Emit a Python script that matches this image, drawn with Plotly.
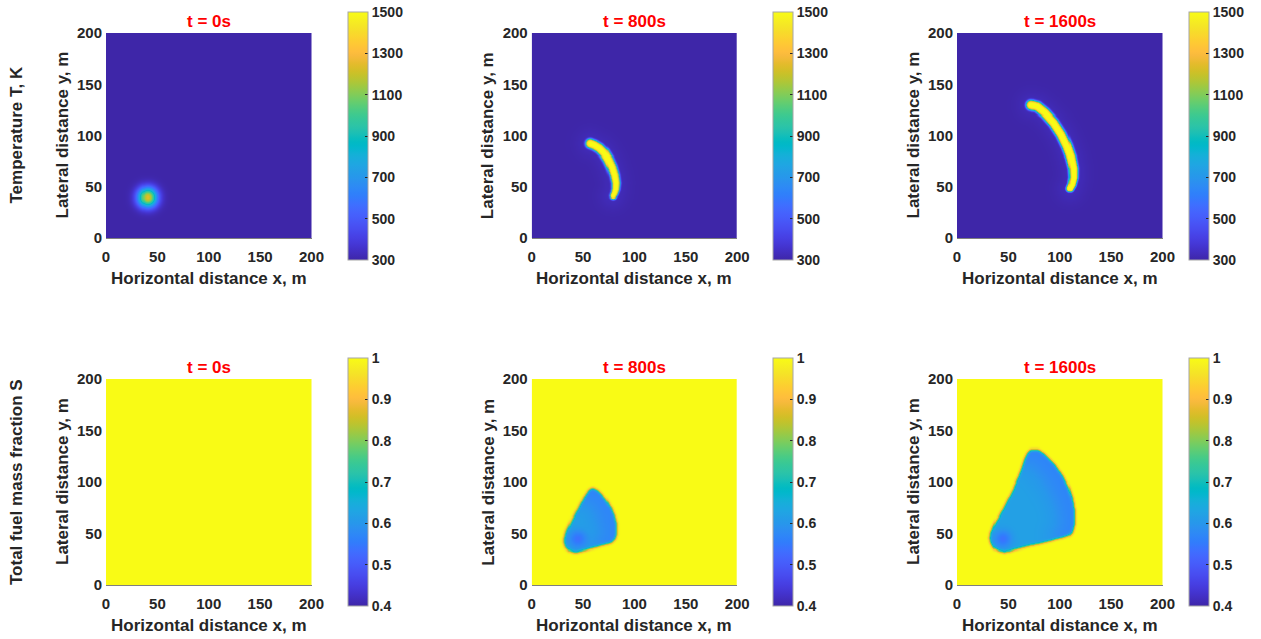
import numpy as np
import plotly.graph_objects as go

# ---------------------------------------------------------------------------
# Domain / grid (200 m x 200 m, 1 m cells)
# ---------------------------------------------------------------------------
N_CELLS = 200
xs = np.arange(N_CELLS) + 0.5
ys = np.arange(N_CELLS) + 0.5
X, Y = np.meshgrid(xs, ys)

time_labels = ["t = 0s", "t = 800s", "t = 1600s"]
row_labels = ["Temperature T, K", "Total fuel mass fraction S"]

# ---------------------------------------------------------------------------
# Temperature data
# ---------------------------------------------------------------------------
T_ambient = 300.0
T_flame = 1500.0
T_ticks = [300, 500, 700, 900, 1100, 1300, 1500]

ignition_x, ignition_y = 40.0, 40.0
ignition_peak = 1240.0
ignition_sigma = 6.5

# fire-front centrelines (ordered from the upper tip to the lower tip)
front_800_x = [56.5, 60.5, 65.5, 70.0, 74.0, 77.5, 80.0, 81.3, 81.0, 79.8, 78.5]
front_800_y = [92.5, 91.0, 88.0, 83.5, 77.0, 69.5, 61.5, 54.0, 48.0, 44.0, 41.5]
front_1600_x = [72.0, 77.5, 85.0, 93.5, 101.0, 106.5, 110.5, 112.8, 113.0, 111.5, 109.5]
front_1600_y = [130.0, 128.5, 122.5, 113.0, 101.5, 90.0, 79.0, 68.5, 59.5, 52.5, 48.5]
front_halfwidth = [4.8, 5.0]

# ---------------------------------------------------------------------------
# Fuel mass fraction data
# ---------------------------------------------------------------------------
S_unburnt = 1.0
S_burnt = 0.62
S_front_dip = 0.05
S_ignition_dip = 0.08
S_ticks = [0.4, 0.5, 0.6, 0.7, 0.8, 0.9, 1.0]
S_ticktext = ["0.4", "0.5", "0.6", "0.7", "0.8", "0.9", "1"]

burned_800_x = [57, 62, 67, 72, 77, 80.5, 82.5, 82.5, 79.5, 60, 42, 35, 31, 31, 34, 40, 46, 52]
burned_800_y = [96, 94.5, 89.5, 83, 75, 66, 57, 49, 42, 36.5, 31.5, 33, 39, 46, 55, 67, 78, 88]
burned_1600_x = [72, 80, 88, 96, 103, 108.5, 112, 114, 114, 111.5, 90, 65, 46, 38, 32, 31, 35, 45, 54, 61, 66, 69]
burned_1600_y = [133.5, 131.5, 125, 116, 106, 95, 84, 72, 60, 49, 43, 37, 32, 33.5, 40, 48, 58, 76, 93, 110, 124, 131]

# parula(64)
parula = [
    [0.2422, 0.1504, 0.6603], [0.2504, 0.1650, 0.7076], [0.2578, 0.1818, 0.7511], [0.2647, 0.1978, 0.7952],
    [0.2706, 0.2147, 0.8364], [0.2751, 0.2342, 0.8710], [0.2783, 0.2559, 0.8991], [0.2803, 0.2782, 0.9221],
    [0.2813, 0.3006, 0.9414], [0.2810, 0.3228, 0.9579], [0.2795, 0.3447, 0.9717], [0.2760, 0.3667, 0.9829],
    [0.2699, 0.3892, 0.9906], [0.2602, 0.4123, 0.9952], [0.2440, 0.4358, 0.9988], [0.2206, 0.4603, 0.9973],
    [0.1963, 0.4847, 0.9892], [0.1834, 0.5074, 0.9798], [0.1786, 0.5289, 0.9682], [0.1764, 0.5499, 0.9520],
    [0.1687, 0.5703, 0.9359], [0.1540, 0.5902, 0.9218], [0.1460, 0.6091, 0.9079], [0.1380, 0.6276, 0.8973],
    [0.1248, 0.6459, 0.8883], [0.1113, 0.6635, 0.8763], [0.0952, 0.6798, 0.8598], [0.0689, 0.6948, 0.8394],
    [0.0297, 0.7082, 0.8163], [0.0036, 0.7203, 0.7917], [0.0067, 0.7312, 0.7660], [0.0433, 0.7411, 0.7394],
    [0.0964, 0.7500, 0.7120], [0.1408, 0.7584, 0.6842], [0.1717, 0.7670, 0.6554], [0.1938, 0.7758, 0.6251],
    [0.2161, 0.7843, 0.5923], [0.2470, 0.7918, 0.5567], [0.2906, 0.7973, 0.5188], [0.3406, 0.8008, 0.4789],
    [0.3909, 0.8029, 0.4354], [0.4456, 0.8024, 0.3909], [0.5044, 0.7993, 0.3480], [0.5616, 0.7942, 0.3045],
    [0.6174, 0.7876, 0.2612], [0.6720, 0.7793, 0.2227], [0.7242, 0.7698, 0.1910], [0.7738, 0.7598, 0.1646],
    [0.8203, 0.7498, 0.1535], [0.8634, 0.7406, 0.1596], [0.9035, 0.7330, 0.1774], [0.9393, 0.7288, 0.2100],
    [0.9728, 0.7298, 0.2394], [0.9956, 0.7434, 0.2371], [0.9970, 0.7659, 0.2199], [0.9952, 0.7893, 0.2028],
    [0.9892, 0.8136, 0.1885], [0.9786, 0.8386, 0.1766], [0.9676, 0.8639, 0.1643], [0.9610, 0.8890, 0.1537],
    [0.9597, 0.9135, 0.1423], [0.9628, 0.9373, 0.1265], [0.9691, 0.9606, 0.1064], [0.9769, 0.9839, 0.0805],
]
colorscale = [
    [i / (len(parula) - 1), "rgb(%d,%d,%d)" % tuple(round(255 * c) for c in rgb)]
    for i, rgb in enumerate(parula)
]


# ---------------------------------------------------------------------------
# Field helpers
# ---------------------------------------------------------------------------
def gaussian_blur(a, sigma):
    r = int(np.ceil(3 * sigma))
    k = np.exp(-0.5 * (np.arange(-r, r + 1) / sigma) ** 2)
    k /= k.sum()
    p = np.pad(a, r, mode="edge")
    p = np.apply_along_axis(lambda v: np.convolve(v, k, mode="valid"), 0, p)
    p = np.apply_along_axis(lambda v: np.convolve(v, k, mode="valid"), 1, p)
    return p


def polyline_distance(px, py, lx, ly):
    lx = np.asarray(lx, float)
    ly = np.asarray(ly, float)
    seg = np.hypot(np.diff(lx), np.diff(ly))
    cum = np.concatenate([[0.0], np.cumsum(seg)])
    best = np.full(px.shape, np.inf)
    along = np.zeros(px.shape)
    for i in range(len(seg)):
        ax, ay = lx[i], ly[i]
        dx, dy = lx[i + 1] - ax, ly[i + 1] - ay
        t = np.clip(((px - ax) * dx + (py - ay) * dy) / (dx * dx + dy * dy), 0, 1)
        d = np.hypot(px - (ax + t * dx), py - (ay + t * dy))
        m = d < best
        best[m] = d[m]
        along[m] = (cum[i] + t[m] * seg[i]) / cum[-1]
    return best, along


def inside_polygon(px, py, vx, vy):
    inside = np.zeros(px.shape, bool)
    n = len(vx)
    j = n - 1
    for i in range(n):
        xi, yi, xj, yj = vx[i], vy[i], vx[j], vy[j]
        cross = ((yi > py) != (yj > py)) & (
            px < (xj - xi) * (py - yi) / (yj - yi + 1e-12) + xi
        )
        inside ^= cross
        j = i
    return inside


def temperature_ignition():
    r2 = (X - ignition_x) ** 2 + (Y - ignition_y) ** 2
    return T_ambient + (ignition_peak - T_ambient) * np.exp(-r2 / (2 * ignition_sigma**2))


def temperature_front(fx, fy, hw):
    d, s = polyline_distance(X, Y, fx, fy)
    w = hw * (1 - 0.3 * s**4)
    band = np.exp(-((d / w) ** 4))
    halo = 30 * np.exp(-(d**2) / (2 * 9.0**2))
    return np.clip(T_ambient + (T_flame - T_ambient) * band + halo, T_ambient, T_flame)


def fuel_fraction(px, py, fx, fy):
    ind = inside_polygon(X, Y, px, py).astype(float)
    rounded = (gaussian_blur(ind, 3.0) > 0.5).astype(float)
    mask = gaussian_blur(rounded, 1.3)
    d, _ = polyline_distance(X, Y, fx, fy)
    r2 = (X - ignition_x - 4) ** 2 + (Y - ignition_y - 5) ** 2
    interior = (
        S_burnt
        - S_front_dip * np.exp(-(d**2) / (2 * 14.0**2))
        - S_ignition_dip * np.exp(-r2 / (2 * 6.0**2))
    )
    return S_unburnt - (S_unburnt - interior) * mask


T_fields = [
    temperature_ignition(),
    temperature_front(front_800_x, front_800_y, front_halfwidth[0]),
    temperature_front(front_1600_x, front_1600_y, front_halfwidth[1]),
]
S_fields = [
    np.full(X.shape, S_unburnt),
    fuel_fraction(burned_800_x, burned_800_y, front_800_x, front_800_y),
    fuel_fraction(burned_1600_x, burned_1600_y, front_1600_x, front_1600_y),
]

# ---------------------------------------------------------------------------
# Layout geometry (pixels)
# ---------------------------------------------------------------------------
W, H = 1261, 639
col_left = [106.0, 531.7, 957.0]
plot_w = 205.5
row_top = [33.0, 379.0]
plot_h = [205.0, 206.0]
cbar_left = [348.0, 773.0, 1189.0]
cbar_top = [12.0, 358.0]
cbar_len = 248.0

FONT = "Liberation Sans, Arial, sans-serif"
TXT = "#262626"

fig = go.Figure()
layout = dict(
    width=W, height=H, margin=dict(l=0, r=0, t=0, b=0, autoexpand=False),
    paper_bgcolor="white", plot_bgcolor="white", showlegend=False,
    font=dict(family=FONT, color=TXT),
)
annotations = []

for r in range(2):
    fields = T_fields if r == 0 else S_fields
    for c in range(3):
        k = r * 3 + c + 1
        xa = "x" if k == 1 else "x%d" % k
        ya = "y" if k == 1 else "y%d" % k
        if r == 0:
            zmin, zmax, tv, tt = 300, 1500, T_ticks, [str(v) for v in T_ticks]
        else:
            zmin, zmax, tv, tt = 0.4, 1.0, S_ticks, S_ticktext
        fig.add_trace(go.Heatmap(
            x=xs, y=ys, z=fields[c], xaxis=xa, yaxis=ya,
            colorscale=colorscale, zmin=zmin, zmax=zmax, zsmooth="best",
            hoverinfo="skip",
            colorbar=dict(
                x=cbar_left[c] / W, xanchor="left", xpad=0,
                y=1 - (cbar_top[r] + cbar_len / 2) / H, yanchor="middle", ypad=0,
                lenmode="pixels", len=cbar_len, thicknessmode="pixels", thickness=20,
                outlinewidth=1, outlinecolor="#a6a6a6",
                tickmode="array", tickvals=tv, ticktext=tt,
                ticks="inside", ticklen=3, tickcolor=TXT, tickwidth=1,
                tickfont=dict(family=FONT, size=14, color=TXT, weight="bold"),
            ),
        ))
        x0 = col_left[c] / W
        x1 = (col_left[c] + plot_w) / W
        y1 = 1 - row_top[r] / H
        y0 = 1 - (row_top[r] + plot_h[r]) / H
        axis_common = dict(
            range=[0, 200], tickmode="array", tickvals=[0, 50, 100, 150, 200],
            showgrid=False, zeroline=False, ticks="", automargin=False,
            tickfont=dict(family=FONT, size=15, color=TXT, weight="bold"),
        )
        layout["xaxis" if k == 1 else "xaxis%d" % k] = dict(
            domain=[x0, x1], anchor=ya, showline=True, linecolor="#7f7f7f", linewidth=1,
            ticklabelstandoff=5, **axis_common)
        layout["yaxis" if k == 1 else "yaxis%d" % k] = dict(
            domain=[y0, y1], anchor=xa, showline=False, ticklabelstandoff=3, **axis_common)

        cx = (col_left[c] + plot_w / 2) / W
        # panel title
        annotations.append(dict(
            text=time_labels[c], x=cx, y=1 - (row_top[r] - 12) / H,
            xref="paper", yref="paper", showarrow=False, xanchor="center", yanchor="middle",
            font=dict(family=FONT, size=17, color="#ff0000", weight="bold")))
        # x-axis title
        annotations.append(dict(
            text="Horizontal distance x, m", x=cx,
            y=1 - (row_top[r] + plot_h[r] + 40) / H,
            xref="paper", yref="paper", showarrow=False, xanchor="center", yanchor="middle",
            font=dict(family=FONT, size=17, color=TXT, weight="bold")))
        # y-axis title
        annotations.append(dict(
            text="Lateral distance y, m", x=(col_left[c] - 44) / W,
            y=1 - (row_top[r] + plot_h[r] / 2) / H, textangle=-90,
            xref="paper", yref="paper", showarrow=False, xanchor="center", yanchor="middle",
            font=dict(family=FONT, size=17, color=TXT, weight="bold")))

    # row label
    annotations.append(dict(
        text=row_labels[r], x=16 / W, y=1 - (row_top[r] + plot_h[r] / 2) / H, textangle=-90,
        xref="paper", yref="paper", showarrow=False, xanchor="center", yanchor="middle",
        font=dict(family=FONT, size=17, color=TXT, weight="bold")))

layout["annotations"] = annotations
fig.update_layout(**layout)
fig.write_html("out.html")
